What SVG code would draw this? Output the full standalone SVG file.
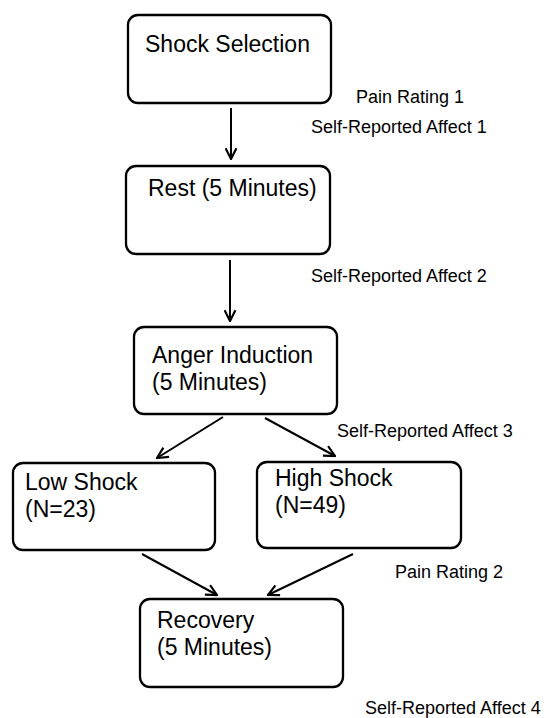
<svg xmlns="http://www.w3.org/2000/svg" width="544" height="718" viewBox="0 0 544 718">
<defs>
<style>
.box{fill:#fff;stroke:#000;stroke-width:2.3}
.bt{font-family:"Liberation Sans",Arial,sans-serif;font-size:23px;fill:#000}
.lb{font-family:"Liberation Sans",Arial,sans-serif;font-size:18px;fill:#000}
.con{stroke:#000;stroke-width:2;fill:none}
</style>
<marker id="ah" viewBox="0 0 12 12" refX="11" refY="6" markerWidth="13" markerHeight="13" markerUnits="userSpaceOnUse" orient="auto">
<polyline points="1,1 11,6 1,11" fill="none" stroke="#000" stroke-width="2"/>
</marker>
</defs>
<rect width="544" height="718" fill="#fff"/>
<g id="shock-selection">
<rect class="box" x="128" y="15" width="203" height="88" rx="10"/>
<text class="bt" x="145" y="52">Shock Selection</text>
</g>
<g id="rest">
<rect class="box" x="126" y="166" width="204" height="88" rx="10"/>
<text class="bt" x="148" y="196">Rest (5 Minutes)</text>
</g>
<g id="anger-induction">
<rect class="box" x="134" y="327" width="203" height="87" rx="10"/>
<text class="bt" x="152" y="363">Anger Induction</text>
<text class="bt" x="152" y="390">(5 Minutes)</text>
</g>
<g id="low-shock">
<rect class="box" x="13" y="463" width="202" height="87" rx="10"/>
<text class="bt" x="25" y="490">Low Shock</text>
<text class="bt" x="25" y="517">(N=23)</text>
</g>
<g id="high-shock">
<rect class="box" x="257" y="462" width="204" height="86" rx="10"/>
<text class="bt" x="275" y="486">High Shock</text>
<text class="bt" x="275" y="513">(N=49)</text>
</g>
<g id="recovery">
<rect class="box" x="140" y="599" width="203" height="88" rx="10"/>
<text class="bt" x="157" y="628">Recovery</text>
<text class="bt" x="157" y="655">(5 Minutes)</text>
</g>
<g id="labels">
<text class="lb" x="356" y="103">Pain Rating 1</text>
<text class="lb" x="311" y="133">Self-Reported Affect 1</text>
<text class="lb" x="311" y="282">Self-Reported Affect 2</text>
<text class="lb" x="337" y="437">Self-Reported Affect 3</text>
<text class="lb" x="395" y="578">Pain Rating 2</text>
<text class="lb" x="365" y="714">Self-Reported Affect 4</text>
</g>
<g id="connectors">
<line class="con" x1="231" y1="108" x2="231" y2="159" marker-end="url(#ah)"/>
<line class="con" x1="230" y1="260" x2="230" y2="321" marker-end="url(#ah)"/>
<line class="con" x1="223" y1="417" x2="157" y2="458" marker-end="url(#ah)"/>
<line class="con" x1="265" y1="418" x2="335" y2="456" marker-end="url(#ah)"/>
<line class="con" x1="142" y1="554" x2="217" y2="595" marker-end="url(#ah)"/>
<line class="con" x1="353" y1="554" x2="268" y2="595" marker-end="url(#ah)"/>
</g>
</svg>
